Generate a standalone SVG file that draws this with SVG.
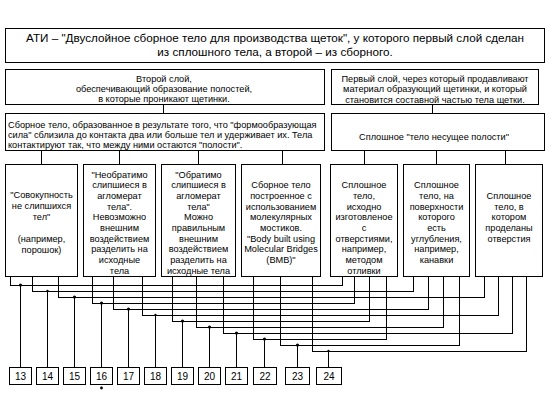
<svg xmlns="http://www.w3.org/2000/svg" width="552" height="405" viewBox="0 0 552 405">
<style>
.b{fill:#fff;stroke:#000;stroke-width:1;shape-rendering:crispEdges}
.l{fill:none;stroke:#000;stroke-width:1;shape-rendering:crispEdges}
text{font-family:"Liberation Sans",Arial,sans-serif;font-size:9.2px;fill:#000}
.c{text-anchor:middle}
.t{font-size:11.7px}
.n{font-size:10px;text-anchor:middle}
</style>
<rect width="552" height="405" fill="#fff"/>
<g id="connectors">
<path class="l" d="M163.5 104.5V113.5M432.5 104.5V113.5"/>
<path class="l" d="M41.5 150.5V164.5M119.5 150.5V164.5M198.5 150.5V164.5M282.5 150.5V164.5M364.5 150.5V164.5M436.5 150.5V164.5M505.5 150.5V164.5"/>
<path class="l" d="M10.5 276.5V285.5H342.5V276.5M32.5 276.5V291.5H413.5V276.5M58.5 276.5V297.5H484.5V276.5M92.5 276.5V303.5H354.5V276.5M113.5 276.5V309.5H428.5V276.5M142.5 276.5V315.5H498.5V276.5M172.5 276.5V321.5H369.5V276.5M196.5 276.5V327.5H443.5V276.5M223.5 276.5V333.5H512.5V276.5M253.5 276.5V339.5H386.5V276.5M280.5 276.5V345.5H459.5V276.5M312.5 276.5V351.5H526.5V276.5"/>
<path class="l" d="M20.5 285.5V367.5M47.5 291.5V367.5M74.5 297.5V367.5M101.5 303.5V367.5M128.5 309.5V367.5M155.5 315.5V367.5M182.5 321.5V367.5M209.5 327.5V367.5M236.5 333.5V367.5M264.5 339.5V367.5M297.5 345.5V367.5M328.5 351.5V367.5"/>
<g fill="#000">
<circle cx="20.5" cy="285" r="1.6"/><circle cx="47.5" cy="291" r="1.2"/><circle cx="74.5" cy="297" r="1.6"/><circle cx="101.5" cy="303" r="1.6"/><circle cx="128.5" cy="309" r="1.6"/><circle cx="155.5" cy="315" r="1.2"/><circle cx="182.5" cy="321" r="1.6"/><circle cx="209.5" cy="327" r="1.6"/><circle cx="236.5" cy="333" r="1.6"/><circle cx="264.5" cy="339" r="1.6"/><circle cx="297.5" cy="345" r="1.6"/><circle cx="328.5" cy="351" r="1.2"/>
<circle cx="101.5" cy="388" r="1.4"/>
</g>
</g>
<g id="title"><rect class="b" x="5.5" y="28.5" width="539" height="34"/>
<text class="c t" x="275" y="42">АТИ – "Двуслойное сборное тело для производства щеток", у которого первый слой сделан</text>
<text class="c t" x="275" y="56">из сплошного тела, а второй – из сборного.</text></g>
<g id="second-layer"><rect class="b" x="5.5" y="69.5" width="319" height="35"/>
<text class="c" x="164" y="81.5">Второй слой,</text><text class="c" x="164" y="91.8">обеспечивающий образование полостей,</text><text class="c" x="164" y="102">в которые проникают щетинки.</text></g>
<g id="first-layer"><rect class="b" x="331.5" y="69.5" width="207" height="35"/>
<text class="c" x="435" y="81.5">Первый слой, через который продавливают</text><text class="c" x="435" y="92">материал образующий щетинки, и который</text><text class="c" x="435" y="102.5">становится составной частью тела щетки.</text></g>
<g id="assembled"><rect class="b" x="5.5" y="113.5" width="319" height="37"/>
<text x="8" y="127.5">Сборное тело, образованное в результате того, что "формообразующая</text><text x="8" y="138">сила" сблизила до контакта два или больше тел и удерживает их. Тела</text><text x="8" y="148">контактируют так, что между ними остаются "полости".</text></g>
<g id="solid"><rect class="b" x="331.5" y="113.5" width="213" height="37"/>
<text class="c" x="434" y="139.5">Сплошное "тело несущее полости"</text></g>
<g id="col1"><rect class="b" x="5.5" y="164.5" width="72" height="112"/>
<text class="c" x="41.5" y="197.5">"Совокупность</text><text class="c" x="41.5" y="209.3">не слипшихся</text><text class="c" x="41.5" y="220.2">тел"</text><text class="c" x="41.5" y="241.8">(например,</text><text class="c" x="41.5" y="252.8">порошок)</text></g>
<g id="col2"><rect class="b" x="83.5" y="164.5" width="72" height="112"/>
<text class="c" x="119.5" y="177.5">"Необратимо</text><text class="c" x="119.5" y="188.2">слипшиеся в</text><text class="c" x="119.5" y="198.9">агломерат</text><text class="c" x="119.5" y="209.6">тела".</text><text class="c" x="119.5" y="220.3">Невозможно</text><text class="c" x="119.5" y="231">внешним</text><text class="c" x="119.5" y="241.7">воздействием</text><text class="c" x="119.5" y="252.4">разделить на</text><text class="c" x="119.5" y="263.1">исходные</text><text class="c" x="119.5" y="273.8">тела</text></g>
<g id="col3"><rect class="b" x="161.5" y="164.5" width="74" height="112"/>
<text class="c" x="198.5" y="177.5">"Обратимо</text><text class="c" x="198.5" y="188.2">слипшиеся в</text><text class="c" x="198.5" y="198.9">агломерат</text><text class="c" x="198.5" y="209.6">тела"</text><text class="c" x="198.5" y="220.3">Можно</text><text class="c" x="198.5" y="231">правильным</text><text class="c" x="198.5" y="241.7">внешним</text><text class="c" x="198.5" y="252.4">воздействием</text><text class="c" x="198.5" y="263.1">разделить на</text><text class="c" x="198.5" y="273.8">исходные тела</text></g>
<g id="col4"><rect class="b" x="241.5" y="164.5" width="79" height="112"/>
<text class="c" x="281" y="188.2">Сборное тело</text><text class="c" x="281" y="198.9">построенное с</text><text class="c" x="281" y="209.6">использованием</text><text class="c" x="281" y="220.3">молекулярных</text><text class="c" x="281" y="231">мостиков.</text><text class="c" x="281" y="241.7">"Body built using</text><text class="c" x="281" y="252.4">Molecular Bridges</text><text class="c" x="281" y="263.1">(BMB)"</text></g>
<g id="col5"><rect class="b" x="330.5" y="164.5" width="67" height="112"/>
<text class="c" x="364" y="188.2">Сплошное</text><text class="c" x="364" y="198.9">тело,</text><text class="c" x="364" y="209.6">исходно</text><text class="c" x="364" y="220.3">изготовленое</text><text class="c" x="364" y="231">с</text><text class="c" x="364" y="241.7">отверстиями,</text><text class="c" x="364" y="252.4">например,</text><text class="c" x="364" y="263.1">методом</text><text class="c" x="364" y="273.8">отливки</text></g>
<g id="col6"><rect class="b" x="403.5" y="164.5" width="66" height="112"/>
<text class="c" x="436.5" y="188.2">Сплошное</text><text class="c" x="436.5" y="198.9">тело, на</text><text class="c" x="436.5" y="209.6">поверхности</text><text class="c" x="436.5" y="220.3">которого</text><text class="c" x="436.5" y="231">есть</text><text class="c" x="436.5" y="241.7">углубления,</text><text class="c" x="436.5" y="252.4">например,</text><text class="c" x="436.5" y="263.1">канавки</text></g>
<g id="col7"><rect class="b" x="475.5" y="164.5" width="67" height="112"/>
<text class="c" x="509" y="198.9">Сплошное</text><text class="c" x="509" y="209.6">тело, в</text><text class="c" x="509" y="220.3">котором</text><text class="c" x="509" y="231">проделаны</text><text class="c" x="509" y="241.7">отверстия</text></g>
<g id="n13"><rect class="b" x="9.5" y="367.5" width="22" height="17"/><text class="n" x="20.5" y="380">13</text></g>
<g id="n14"><rect class="b" x="36.5" y="367.5" width="22" height="17"/><text class="n" x="47.5" y="380">14</text></g>
<g id="n15"><rect class="b" x="63.5" y="367.5" width="22" height="17"/><text class="n" x="74.5" y="380">15</text></g>
<g id="n16"><rect class="b" x="90.5" y="367.5" width="22" height="17"/><text class="n" x="101.5" y="380">16</text></g>
<g id="n17"><rect class="b" x="117.5" y="367.5" width="22" height="17"/><text class="n" x="128.5" y="380">17</text></g>
<g id="n18"><rect class="b" x="144.5" y="367.5" width="22" height="17"/><text class="n" x="155.5" y="380">18</text></g>
<g id="n19"><rect class="b" x="171.5" y="367.5" width="22" height="17"/><text class="n" x="182.5" y="380">19</text></g>
<g id="n20"><rect class="b" x="198.5" y="367.5" width="22" height="17"/><text class="n" x="209.5" y="380">20</text></g>
<g id="n21"><rect class="b" x="225.5" y="367.5" width="22" height="17"/><text class="n" x="236.5" y="380">21</text></g>
<g id="n22"><rect class="b" x="253.5" y="367.5" width="23" height="17"/><text class="n" x="265" y="380">22</text></g>
<g id="n23"><rect class="b" x="285.5" y="367.5" width="24" height="17"/><text class="n" x="297.5" y="380">23</text></g>
<g id="n24"><rect class="b" x="316.5" y="367.5" width="25" height="17"/><text class="n" x="329" y="380">24</text></g>
</svg>
